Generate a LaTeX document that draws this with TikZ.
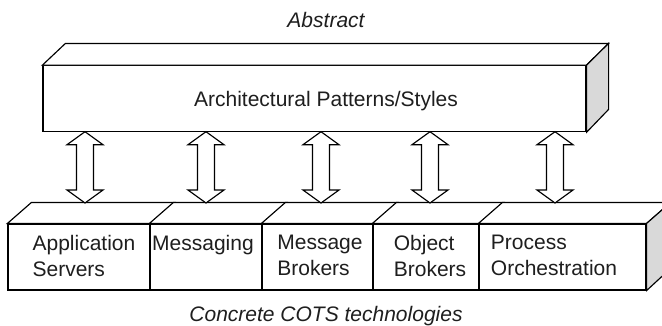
\documentclass[tikz,border=0pt]{standalone}
\usepackage{fontspec}
\setmainfont{Liberation Sans}
\usetikzlibrary{calc}
\definecolor{sidegray}{RGB}{217,217,217}
\definecolor{inkgray}{RGB}{30,30,30}
\tikzset{
  edge/.style={line width=1.15pt, line join=miter},
  face/.style={edge, draw=black, fill=white, rectangle, inner sep=0pt},
  lbl/.style={font=\fontsize{21}{26}\selectfont, text=inkgray, inner sep=0pt},
  harrowstyle/.style={edge, draw=black, fill=white},
}
\newcommand{\hollowarrow}[2]{%
  \draw[harrowstyle] (#1) -- ($(#1)+(18,13)$) -- ($(#1)+(8.5,13)$)
    -- ($(#2)+(8.5,-13)$) -- ($(#2)+(18,-13)$) -- (#2)
    -- ($(#2)+(-18,-13)$) -- ($(#2)+(-8.5,-13)$)
    -- ($(#1)+(-8.5,13)$) -- ($(#1)+(-18,13)$) -- cycle;}
\begin{document}
\begin{tikzpicture}[x=1pt,y=-1pt]
\useasboundingbox (0,0) rectangle (662,325);
\clip (0,0) rectangle (662,325);

% top block
\node[face, minimum width=543pt, minimum height=66pt] (top) at (314.5,98.7) {};
\draw[edge, fill=white] (top.north west) -- ++(23,-21.7) -- ($(top.north east)+(22,-21.7)$) -- (top.north east) -- cycle;
\draw[edge, fill=sidegray] (top.north east) -- ++(22,-21.7) -- ++(0,66) -- (top.south east) -- cycle;

% bottom blocks
\node[face, minimum width=142pt, minimum height=66pt] (s1) at (79,257) {};
\node[face, minimum width=112pt, minimum height=66pt] (s2) at (206,257) {};
\node[face, minimum width=111pt, minimum height=66pt] (s3) at (317.5,257) {};
\node[face, minimum width=106pt, minimum height=66pt] (s4) at (426,257) {};
\node[face, minimum width=167pt, minimum height=66pt] (s5) at (562.5,257) {};
\foreach \s in {s1,s2,s3,s4,s5}{
  \draw[edge, fill=white] (\s.north west) -- ++(24,-21) -- ($(\s.north east)+(24,-21)$) -- (\s.north east) -- cycle;
}
\draw[edge, fill=sidegray] (s5.north east) -- ++(24,-21) -- ++(0,66) -- (s5.south east) -- cycle;

% arrow ends
\coordinate (t1) at (85,131.7);  \coordinate (b1) at (85,203);
\coordinate (t2) at (206,131.7); \coordinate (b2) at (206,203);
\coordinate (t3) at (321,131.7); \coordinate (b3) at (321,203);
\coordinate (t4) at (430,131.7); \coordinate (b4) at (430,203);
\coordinate (t5) at (555,131.7); \coordinate (b5) at (555,203);
\hollowarrow{t1}{b1}
\hollowarrow{t2}{b2}
\hollowarrow{t3}{b3}
\hollowarrow{t4}{b4}
\hollowarrow{t5}{b5}

% texts
\node[lbl, anchor=base] (abs) at (326,27) {\itshape Abstract};
\node[lbl, anchor=base] (toplbl) at (326,106) {Architectural Patterns/Styles};
\node[lbl, anchor=base] (conc) at (326,321) {\itshape Concrete COTS technologies};
\node[lbl, anchor=north, align=left] (l1) at (84,235) {Application\\Servers};
\node[lbl, anchor=north, align=left] (l2) at (203,235) {Messaging};
\node[lbl, anchor=north, align=left] (l3) at (320,235) {Message\\Brokers};
\node[lbl, anchor=north, align=left] (l4) at (430,235) {Object\\Brokers};
\node[lbl, anchor=north, align=left] (l5) at (554,235) {Process\\Orchestration};
\end{tikzpicture}
\end{document}
